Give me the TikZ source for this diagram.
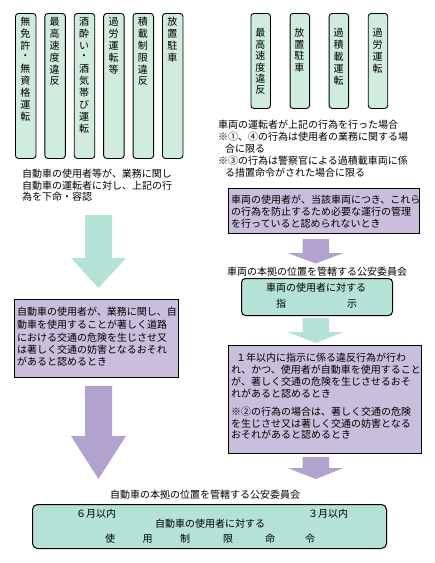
\documentclass[tikz,border=0pt]{standalone}
\usepackage{fontspec}
\setmainfont{Noto Sans CJK JP}
\XeTeXlinebreaklocale "ja"
\XeTeXlinebreakskip=0pt plus 1fil
\definecolor{tealA}{HTML}{B4E2D7}
\definecolor{tealL}{HTML}{CFECDC}
\definecolor{purB}{HTML}{C9BFDD}
\definecolor{purA}{HTML}{B1A3CD}
\newcommand{\jpsz}{\fontsize{10}{12}\selectfont}
\newcommand{\jl}[2]{\makebox[#1][s]{#2}}
\newcommand{\vcol}[5]{\foreach \c [count=\i] in {#5}{\node[ch] (#1-\i) at (#2,{#3+(\i-1)*#4}) {\c};}}
\tikzset{
 vbox/.style={draw=black, line width=0.9pt, fill=tealL, rounded corners=3pt, inner sep=0pt, anchor=north west},
 pbox/.style={draw=black, line width=1pt, fill=purB, inner sep=0pt, anchor=north west},
 tbox/.style={draw=black, line width=1pt, fill=tealA, rounded corners=4pt, inner sep=0pt, anchor=north west},
 ch/.style={inner sep=0pt, font=\jpsz},
 txt/.style={inner sep=0pt, anchor=west, font=\jpsz},
 tarrow/.style={fill=tealA, draw=none},
 parrow/.style={fill=purA, draw=none},
}
\begin{document}
\begin{tikzpicture}[x=1pt,y=-1pt]
\useasboundingbox (0,0) rectangle (435,563);
\fill[white] (0,0) rectangle (435,563);
% left vertical boxes
\foreach \k in {1,...,6}{
  \node[vbox, minimum width=20.5pt, minimum height=145pt] (lb\k) at ({15+29.4*(\k-1)},13) {};
}
\vcol{la}{25.3}{22}{11.8}{無,免,許,・,無,資,格,運,転}
\vcol{lb}{54.7}{22}{11.8}{最,高,速,度,違,反}
\vcol{lc}{84.1}{22}{11.8}{酒,酔,い,・,酒,気,帯,び,運,転}
\vcol{ld}{113.5}{22}{11.8}{過,労,運,転,等}
\vcol{le}{142.9}{22}{11.8}{積,載,制,限,違,反}
\vcol{lf}{172.3}{22}{11.8}{放,置,駐,車}
% left text
\node[txt] (lt1) at (22,174) {\jl{153pt}{自動車の使用者等が、業務に関し}};
\node[txt] (lt2) at (22,185.5) {\jl{154pt}{自動車の運転者に対し、上記の行}};
\node[txt] (lt3) at (22,197) {為を下命・容認};
% right vertical boxes
\foreach \k in {1,...,4}{
  \node[vbox, minimum width=19.5pt, minimum height=95pt] (rb\k) at ({250.5+39.1*(\k-1)},13) {};
}
\vcol{ra}{260.3}{33}{11.5}{最,高,速,度,違,反}
\vcol{rb}{299.4}{33}{11.5}{放,置,駐,車}
\vcol{rc}{338.5}{33}{12}{過,積,載,運,転}
\vcol{rd}{377.6}{33}{12}{過,労,運,転}
% right text
\node[txt] (rt1) at (218,125) {\jl{199pt}{車両の運転者が上記の行為を行った場合}};
\node[txt] (rt2) at (218,137) {\jl{199pt}{※①、④の行為は使用者の業務に関する場}};
\node[txt] (rt3) at (225,148.5) {\jl{51pt}{合に限る}};
\node[txt] (rt4) at (218,161) {\jl{199pt}{※③の行為は警察官による過積載車両に係}};
\node[txt] (rt5) at (225,172.5) {\jl{142pt}{る措置命令がされた場合に限る}};
% right purple box 1
\node[pbox, minimum width=191pt, minimum height=45pt] (rp1) at (228,188) {};
\node[txt] (rp1a) at (231,200) {\jl{186pt}{車両の使用者が、当該車両につき、これら}};
\node[txt] (rp1b) at (231,212) {\jl{186pt}{の行為を防止するため必要な運行の管理}};
\node[txt] (rp1c) at (231,223.5) {\jl{144pt}{を行っていると認められないとき}};
% left arrow 1 (teal)
\fill[tarrow] (85,215) -- (112,215) -- (112,258) -- (126,258) -- (98.5,288) -- (71,258) -- (85,258) -- cycle;
% left purple box
\node[pbox, minimum width=164pt, minimum height=78pt] (lp) at (14,299) {};
\node[txt] (lp1) at (17,312) {\jl{159pt}{自動車の使用者が、業務に関し、自}};
\node[txt] (lp2) at (17,324.5) {\jl{158pt}{動車を使用することが著しく道路}};
\node[txt] (lp3) at (17,337.5) {\jl{158pt}{における交通の危険を生じさせ又}};
\node[txt] (lp4) at (17,349.5) {\jl{158pt}{は著しく交通の妨害となるおそれ}};
\node[txt] (lp5) at (17,361.5) {があると認めるとき};
% left arrow 2 (purple)
\fill[parrow] (85,386) -- (112,386) -- (112,436) -- (126,436) -- (98.5,479) -- (71,436) -- (85,436) -- cycle;
% right arrow 1 (purple)
\fill[parrow] (302.5,239) -- (329,239) -- (329,253) -- (343.5,253) -- (315.7,263.5) -- (287.5,253) -- (302.5,253) -- cycle;
\node[txt] (rc1) at (227,272) {\jl{179pt}{車両の本拠の位置を管轄する公安委員会}};
% right teal box
\node[tbox, minimum width=151pt, minimum height=37pt] (rtb) at (241,278) {};
\node[ch] (rtb1) at (316,288) {車両の使用者に対する};
\node[ch] (rtb2) at (281,304) {指};
\node[ch] (rtb3) at (352,304) {示};
% right arrow 2 (teal)
\fill[tarrow] (302.5,318) -- (329,318) -- (329,332) -- (343.5,332) -- (315.7,343) -- (287.5,332) -- (302.5,332) -- cycle;
% right purple box 2
\node[pbox, minimum width=193pt, minimum height=108pt] (rp2) at (228,345) {};
\node[txt] (rp2a) at (236,358) {\jl{179pt}{１年以内に指示に係る違反行為が行わ}};
\node[txt] (rp2b) at (231,370) {\jl{184pt}{れ、かつ、使用者が自動車を使用すること}};
\node[txt] (rp2c) at (231,382) {\jl{187pt}{が、著しく交通の危険を生じさせるおそ}};
\node[txt] (rp2d) at (231,393.5) {\jl{105pt}{れがあると認めるとき}};
\node[txt] (rp2e) at (231,412) {\jl{186pt}{※②の行為の場合は、著しく交通の危険}};
\node[txt] (rp2f) at (231,423.5) {\jl{186pt}{を生じさせ又は著しく交通の妨害となる}};
\node[txt] (rp2g) at (231,435) {\jl{121pt}{おそれがあると認めるとき}};
% right arrow 3 (purple)
\fill[parrow] (302.5,457) -- (329,457) -- (329,468) -- (343.5,468) -- (315.7,479) -- (287.5,468) -- (302.5,468) -- cycle;
% bottom
\node[txt] (bc) at (110,495) {\jl{190pt}{自動車の本拠の位置を管轄する公安委員会}};
\node[tbox, minimum width=354pt, minimum height=44pt, rounded corners=5pt] (btb) at (32,504) {};
\node[txt] (b6) at (76,514) {\jl{38pt}{６月以内}};
\node[txt] (b3) at (308,514) {\jl{38pt}{３月以内}};
\node[ch] (bu) at (210,523.5) {自動車の使用者に対する};
\node[ch] (s1) at (110,539) {使};
\node[ch] (s2) at (147.5,539) {用};
\node[ch] (s3) at (185,539) {制};
\node[ch] (s4) at (228,539) {限};
\node[ch] (s5) at (270,539) {命};
\node[ch] (s6) at (310,539) {令};
\end{tikzpicture}
\end{document}
